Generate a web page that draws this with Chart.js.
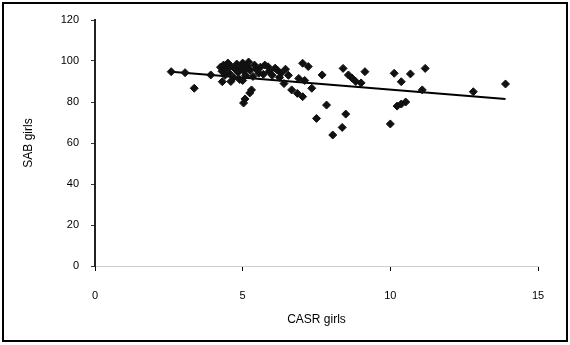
<!DOCTYPE html>
<html>
<head>
<meta charset="utf-8">
<script src="https://cdn.jsdelivr.net/npm/chart.js@4/dist/chart.umd.min.js"></script>
<style>
html,body{margin:0;padding:0;background:#fff;}
#wrap{position:relative;width:570px;height:345px;}
#frame{position:absolute;left:2px;top:2px;width:562px;height:336px;border:2px solid #000;pointer-events:none;}
canvas{position:absolute;left:0;top:0;}
</style>
</head>
<body>
<div id="wrap">
<canvas id="c" width="570" height="345"></canvas>
<div id="frame"></div>
</div>
<script>
const xTitle = "CASR girls";
const yTitle = "SAB girls";
const xTicks = [0, 5, 10, 15];
const yTicks = [0, 20, 40, 60, 80, 100, 120];

const xValues = [2.58, 3.05, 3.36, 3.92, 4.31, 5.03, 5.08, 5.24, 5.30, 5.86, 6.17, 6.66, 6.85, 7.03, 7.34, 7.03, 7.22, 7.50, 7.69, 7.84, 8.05, 8.37, 8.49, 8.40, 8.58, 8.70, 8.83, 9.01, 9.14, 10.00, 10.13, 10.37, 10.68, 10.23, 10.37, 10.52, 11.18, 11.08, 12.81, 13.90,
  4.25, 4.30, 4.35, 4.40, 4.45, 4.50, 4.55, 4.60, 4.70, 4.75, 4.80, 4.85, 4.90, 4.95, 5.00, 5.05, 5.10, 5.15, 5.20, 5.25, 5.35, 5.40, 5.45, 5.55, 5.60, 5.70, 5.75, 5.90, 6.00, 6.10, 6.25, 6.30, 6.45, 6.55, 4.60, 5.00, 6.40, 6.90, 7.10];
const yValues = [94.8, 94.3, 86.7, 93.2, 89.9, 79.5, 81.5, 84.4, 85.9, 97.2, 95.6, 85.9, 84.2, 82.6, 86.7, 98.9, 97.3, 72.0, 93.2, 78.5, 63.9, 67.6, 74.1, 96.4, 93.2, 91.7, 90.0, 89.3, 94.8, 69.3, 94.0, 89.9, 93.7, 78.0, 79.0, 80.0, 96.4, 85.9, 85.0, 88.8,
  97.0, 95.0, 98.0, 93.0, 96.5, 99.0, 94.0, 97.5, 92.0, 96.0, 98.5, 94.5, 91.0, 97.0, 99.0, 95.0, 93.0, 97.5, 99.5, 95.5, 92.5, 98.0, 96.0, 94.0, 97.0, 93.5, 98.0, 95.0, 93.0, 96.5, 92.0, 94.0, 96.0, 93.0, 90.0, 90.5, 89.0, 91.5, 90.5];
const trendX = [2.58, 13.90];
const trendY = [94.8, 81.5];

const points = xValues.map((x, i) => ({x: x, y: yValues[i]}));
const trend = trendX.map((x, i) => ({x: x, y: trendY[i]}));

const font = {family: "'Liberation Sans', Arial, sans-serif", size: 11};

new Chart(document.getElementById('c'), {
  type: 'scatter',
  data: {
    datasets: [
      {
        data: points,
        pointStyle: 'rectRot',
        pointRadius: 4,
        backgroundColor: '#111',
        borderColor: '#111',
        borderWidth: 1
      },
      {
        type: 'line',
        data: trend,
        borderColor: '#000',
        borderWidth: 2,
        pointRadius: 0,
        fill: false
      }
    ]
  },
  options: {
    responsive: false,
    animation: false,
    layout: {padding: {left: 0, top: 20, right: 32, bottom: 0}},
    plugins: {legend: {display: false}, tooltip: {enabled: false}},
    scales: {
      x: {
        type: 'linear',
        min: 0, max: 15,
        afterBuildTicks: s => { s.ticks = xTicks.map(v => ({value: v})); },
        afterFit: s => { s.height = 79; },
        grid: {drawOnChartArea: false, drawTicks: true, tickLength: 5, color: '#000', tickWidth: 1},
        border: {display: true, color: '#cfcfcf', width: 1},
        ticks: {font: font, color: '#000', padding: 18, maxRotation: 0},
        title: {display: true, text: xTitle, font: {family: font.family, size: 12}, color: '#000', padding: {top: 18, bottom: 18}}
      },
      y: {
        type: 'linear',
        min: 0, max: 120,
        afterBuildTicks: s => { s.ticks = yTicks.map(v => ({value: v})); },
        afterFit: s => { s.width = 95; },
        grid: {drawOnChartArea: false, drawTicks: true, tickLength: 4, color: '#333'},
        border: {display: true, color: '#222', width: 2},
        ticks: {font: font, color: '#000', padding: 12},
        title: {display: true, text: yTitle, font: {family: font.family, size: 12}, color: '#000', padding: {top: 21, bottom: 21}}
      }
    }
  }
});
</script>
</body>
</html>
